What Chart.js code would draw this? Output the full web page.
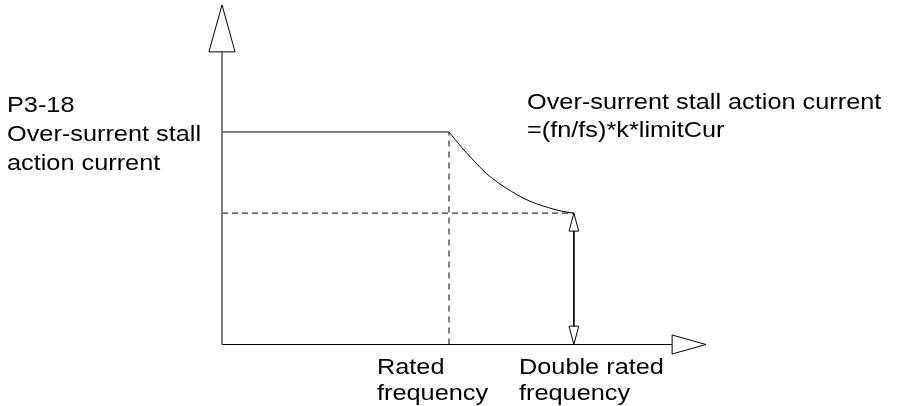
<!DOCTYPE html>
<html>
<head>
<meta charset="utf-8">
<script src="https://cdn.jsdelivr.net/npm/chart.js@4"></script>
<style>
  body { margin: 0; background: #fff; }
  canvas { display: block; }
</style>
</head>
<body>
<canvas id="stallChart" width="897" height="406"></canvas>
<script>
// Diagram data (x: frequency axis, y: current axis, both 0..100 units)
const freqAxis = [[0, 0], [93, 0]];
const freqArrow = [[93, 2.8], [100, 0], [93, -2.8], [93, 2.8]];
const currAxis = [[0, 0], [0, 86.2]];
const currArrow = [[-2.7, 86.2], [0, 100], [2.7, 86.2], [-2.7, 86.2]];
const limitLine = [[0, 62.6], [46.9, 62.6]];
const curveX = [46.9, 49.5, 52.1, 54.6, 57.2, 59.8, 62.4, 64.9, 67.5, 70.1, 72.7];
const curveY = [62.6, 58.1, 54.0, 50.4, 47.5, 45.1, 43.0, 41.5, 40.3, 39.3, 38.7];
const endLevel = [[0, 38.7], [72.7, 38.7]];
const ratedDrop = [[46.9, 0], [46.9, 62.6]];
const spanShaft = [[72.7, 33.4], [72.7, 5.4]];
const spanTop = [[71.7, 33.4], [72.7, 38.7], [73.7, 33.4], [71.7, 33.4]];
const spanBottom = [[71.7, 5.4], [72.7, 0], [73.7, 5.4], [71.7, 5.4]];

const pts = arr => arr.map(p => ({ x: p[0], y: p[1] }));

function line(data, extra) {
    return Object.assign({
        data: pts(data),
        showLine: true,
        borderColor: '#000',
        borderWidth: 1,
        pointRadius: 0,
        fill: false,
        clip: false,
        tension: 0
    }, extra || {});
}

// Text labels
const labels = [
    { lines: ['P3-18', 'Over-surrent stall', 'action current'], x: 7, y: 112, gap: 29 },
    { lines: ['Over-surrent stall action current', '=(fn/fs)*k*limitCur'], x: 527, y: 109, gap: 28 },
    { lines: ['Rated', 'frequency'], x: 377, y: 374, gap: 26 },
    { lines: ['Double rated', 'frequency'], x: 519, y: 374, gap: 26 }
];

const textPlugin = {
    id: 'diagramText',
    afterDatasetsDraw(chart) {
        const ctx = chart.ctx;
        ctx.save();
        ctx.fillStyle = '#000';
        ctx.font = '22px "Liberation Sans", Arial, sans-serif';
        ctx.textBaseline = 'alphabetic';
        labels.forEach(l => {
            l.lines.forEach((t, i) => {
                ctx.save();
                ctx.translate(l.x, l.y + i * l.gap);
                ctx.scale(1.15, 1);
                ctx.fillText(t, 0, 0);
                ctx.restore();
            });
        });
        ctx.restore();
    }
};

new Chart(document.getElementById('stallChart'), {
    type: 'scatter',
    data: {
        datasets: [
            line(freqAxis),
            line(freqArrow),
            line(currAxis, { borderColor: '#555', borderWidth: 1.5 }),
            line(currArrow),
            line(limitLine),
            line(curveX.map((x, i) => [x, curveY[i]]), { tension: 0.4, cubicInterpolationMode: 'monotone' }),
            line(endLevel, { borderDash: [6, 4] }),
            line(ratedDrop, { borderDash: [6, 5] }),
            line(spanShaft),
            line(spanTop),
            line(spanBottom)
        ]
    },
    options: {
        responsive: false,
        animation: false,
        layout: { padding: { left: 222, right: 191, top: 5, bottom: 61.5 } },
        scales: {
            x: { type: 'linear', min: 0, max: 100, display: false },
            y: { type: 'linear', min: 0, max: 100, display: false }
        },
        plugins: {
            legend: { display: false },
            tooltip: { enabled: false }
        }
    },
    plugins: [textPlugin]
});
</script>
</body>
</html>
